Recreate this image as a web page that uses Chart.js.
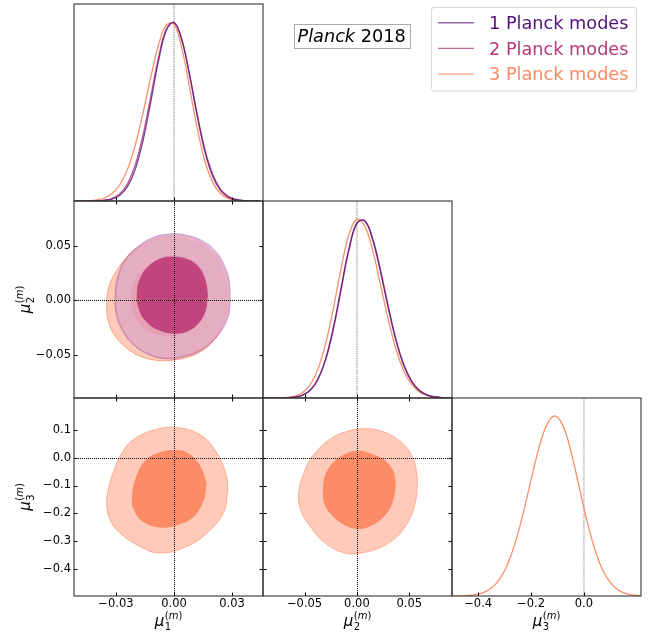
<!DOCTYPE html>
<html><head><meta charset="utf-8">
<script src="https://cdn.jsdelivr.net/npm/chart.js@4.4.1/dist/chart.umd.min.js"></script>
<style>
body{margin:0;background:#fff;}
#wrap{position:relative;width:649px;height:637px;background:#fff;}
#wrap canvas{position:absolute;left:0;top:0;}
</style></head>
<body><div id="wrap"></div>
<script>
// ---------------- DATA ----------------
const MODEL_LABELS = ['1 Planck modes', '2 Planck modes', '3 Planck modes'];

const MU1_TICKS = [-0.03, 0, 0.03];
const MU1_TICK_LABELS = ['\u22120.03', '0.00', '0.03'];
const MU2_TICKS = [-0.05, 0, 0.05];
const MU2_TICK_LABELS = ['\u22120.05', '0.00', '0.05'];
const MU3_YTICKS = [-0.4, -0.3, -0.2, -0.1, 0, 0.1];
const MU3_YTICK_LABELS = ['\u22120.4', '\u22120.3', '\u22120.2', '\u22120.1', '0.0', '0.1'];
const MU3_XTICKS = [-0.4, -0.2, 0];
const MU3_XTICK_LABELS = ['\u22120.4', '\u22120.2', '0.0'];

const MU1_RANGE = [-0.0517, 0.0460];
const MU2_RANGE = [-0.0897, 0.0908];
const MU3_RANGE = [-0.499, 0.216];
const PDF_RANGE = [0, 1.1];

// 1D marginals (normalised to peak 1)
const MU1_GRID = [-0.052,-0.048,-0.044,-0.040,-0.036,-0.032,-0.028,-0.024,-0.020,-0.016,-0.012,-0.008,-0.004,0.000,0.004,0.008,0.012,0.016,0.020,0.024,0.028,0.032,0.036,0.040,0.044];
const PDF_MU1_1 = [0.0000,0.0000,0.0002,0.0008,0.0032,0.0107,0.0319,0.0813,0.178,0.339,0.554,0.782,0.951,0.998,0.903,0.705,0.475,0.275,0.138,0.0595,0.0222,0.0072,0.0020,0.0005,0.0001];
const PDF_MU1_2 = [0.0000,0.0001,0.0003,0.0013,0.0046,0.0146,0.0404,0.0972,0.203,0.370,0.584,0.802,0.959,0.996,0.900,0.707,0.483,0.287,0.149,0.0667,0.0261,0.0089,0.0026,0.0007,0.0001];
const PDF_MU1_3 = [0.0002,0.0006,0.0020,0.0062,0.0167,0.0413,0.0908,0.178,0.313,0.492,0.692,0.871,0.982,0.986,0.855,0.636,0.406,0.222,0.104,0.0418,0.0144,0.0043,0.0011,0.0002,0.0000];

const MU2_GRID = [-0.09,-0.0825,-0.075,-0.0675,-0.06,-0.0525,-0.045,-0.0375,-0.03,-0.0225,-0.015,-0.0075,0,0.0075,0.015,0.0225,0.03,0.0375,0.045,0.0525,0.06,0.0675,0.075,0.0825,0.09];
const PDF_MU2_1 = [0.0000,0.0001,0.0003,0.0012,0.0045,0.0149,0.0418,0.103,0.217,0.394,0.619,0.838,0.978,0.988,0.884,0.705,0.500,0.316,0.177,0.0889,0.0397,0.0158,0.0056,0.0018,0.0005];
const PDF_MU2_2 = [0.0000,0.0000,0.0002,0.0011,0.0042,0.0140,0.0398,0.0989,0.209,0.383,0.607,0.827,0.974,0.991,0.892,0.716,0.511,0.325,0.184,0.0927,0.0416,0.0166,0.0059,0.0018,0.0005];
const PDF_MU2_3 = [0.0000,0.0002,0.0007,0.0028,0.0095,0.0277,0.0710,0.157,0.301,0.501,0.726,0.914,0.999,0.959,0.824,0.633,0.436,0.268,0.148,0.0729,0.0321,0.0127,0.0045,0.0014,0.0004];

const MU3_GRID = [-0.50,-0.47,-0.44,-0.41,-0.38,-0.35,-0.32,-0.29,-0.26,-0.23,-0.20,-0.17,-0.14,-0.11,-0.08,-0.05,-0.02,0.01,0.04,0.07,0.10,0.13,0.16,0.19,0.22];
const PDF_MU3_3 = [0.0003,0.0009,0.0027,0.0076,0.0192,0.0439,0.0910,0.172,0.295,0.458,0.644,0.823,0.952,1.000,0.948,0.809,0.620,0.427,0.265,0.147,0.0738,0.0333,0.0135,0.0049,0.0016];

// 2D credible contours [x, y]  (outer = 95%, inner = 68%)
const C12_1_OUTER = [[0.0290,0.005],[0.0285,0.018],[0.0262,0.031],[0.0215,0.045],[0.014,0.055],[0.005,0.060],[-0.002,0.0605],[-0.010,0.058],[-0.018,0.050],[-0.025,0.038],[-0.029,0.022],[-0.0305,0.005],[-0.030,-0.012],[-0.027,-0.027],[-0.021,-0.041],[-0.013,-0.050],[-0.004,-0.0538],[0.005,-0.052],[0.014,-0.046],[0.022,-0.034],[0.027,-0.020],[0.0288,-0.008],[0.0290,0.005]];
const C12_1_INNER = [[0.0176,0.005],[0.0167,0.017],[0.0138,0.029],[0.0083,0.0372],[0.0003,0.0402],[-0.0068,0.0386],[-0.0134,0.0309],[-0.0175,0.0196],[-0.0190,0.0052],[-0.0180,-0.0082],[-0.0145,-0.0195],[-0.0080,-0.0277],[0.0002,-0.0309],[0.0073,-0.0287],[0.0129,-0.0215],[0.0164,-0.0102],[0.0176,0.005]];
const C12_2_OUTER = [[0.0286,0.005],[0.0281,0.018],[0.0258,0.030],[0.0212,0.044],[0.0138,0.054],[0.005,0.0592],[-0.002,0.0597],[-0.0098,0.0572],[-0.0177,0.0494],[-0.0246,0.0375],[-0.0286,0.0218],[-0.0300,0.005],[-0.0295,-0.0118],[-0.0266,-0.0266],[-0.0207,-0.0404],[-0.0128,-0.0493],[-0.0039,-0.0530],[0.0049,-0.0512],[0.0138,-0.0453],[0.0217,-0.0335],[0.0266,-0.0197],[0.0284,-0.0079],[0.0286,0.005]];
const C12_2_INNER = [[0.0172,0.004],[0.0163,0.016],[0.0134,0.028],[0.0080,0.036],[0.000,0.039],[-0.007,0.0375],[-0.0135,0.030],[-0.0175,0.019],[-0.019,0.005],[-0.018,-0.008],[-0.0145,-0.019],[-0.008,-0.027],[0.000,-0.0302],[0.007,-0.028],[0.0125,-0.021],[0.016,-0.010],[0.0172,0.004]];
const C12_3_OUTER = [[0.0272,0.002],[0.0265,0.017],[0.0240,0.031],[0.019,0.044],[0.011,0.053],[0.002,0.0574],[-0.007,0.0565],[-0.016,0.051],[-0.024,0.040],[-0.030,0.026],[-0.0337,0.012],[-0.0348,-0.004],[-0.0338,-0.020],[-0.030,-0.034],[-0.023,-0.046],[-0.015,-0.053],[-0.006,-0.0555],[0.003,-0.054],[0.012,-0.049],[0.019,-0.040],[0.024,-0.027],[0.0265,-0.013],[0.0272,0.002]];
const C12_3_INNER = [[0.016,0.0],[0.014,0.018],[0.009,0.031],[0.000,0.037],[-0.009,0.035],[-0.017,0.026],[-0.0215,0.012],[-0.022,-0.003],[-0.019,-0.018],[-0.013,-0.028],[-0.005,-0.032],[0.004,-0.030],[0.011,-0.021],[0.015,-0.011],[0.016,0.0]];

const C13_3_OUTER = [[0.0279,-0.115],[0.0255,-0.199],[0.0169,-0.272],[0.0066,-0.320],[-0.0072,-0.344],[-0.0176,-0.320],[-0.0279,-0.272],[-0.0331,-0.224],[-0.0348,-0.163],[-0.0335,-0.100],[-0.031,-0.045],[-0.0279,0.006],[-0.0210,0.066],[-0.0090,0.103],[0.0014,0.109],[0.0134,0.084],[0.0221,0.018],[0.0272,-0.067],[0.0279,-0.115]];
const C13_3_INNER = [[0.0166,-0.091],[0.0152,-0.151],[0.0100,-0.212],[0.0014,-0.242],[-0.0072,-0.250],[-0.0159,-0.230],[-0.0202,-0.193],[-0.0216,-0.151],[-0.0193,-0.067],[-0.0141,-0.006],[-0.0072,0.018],[-0.0004,0.026],[0.0066,0.018],[0.0134,-0.030],[0.0166,-0.091]];

const C23_3_OUTER = [[0.0579,-0.079],[0.0557,-0.163],[0.0462,-0.248],[0.0302,-0.308],[0.0079,-0.341],[-0.0112,-0.344],[-0.0303,-0.308],[-0.0446,-0.248],[-0.0526,-0.199],[-0.0558,-0.133],[-0.0494,-0.042],[-0.0399,0.018],[-0.0239,0.072],[-0.0048,0.100],[0.0079,0.105],[0.0239,0.096],[0.0430,0.054],[0.0541,-0.006],[0.0579,-0.079]];
const C23_3_INNER = [[0.0366,-0.103],[0.0335,-0.163],[0.0254,-0.212],[0.0111,-0.248],[-0.0016,-0.254],[-0.0143,-0.236],[-0.0255,-0.199],[-0.0310,-0.163],[-0.0319,-0.127],[-0.0303,-0.067],[-0.0224,-0.018],[-0.0112,0.012],[0.0015,0.024],[0.0143,0.012],[0.0271,-0.012],[0.0350,-0.054],[0.0366,-0.103]];

// ---------------- LAYOUT / STYLE ----------------
const W = 649, H = 637;
const COLS = [[74, 263], [263, 452], [452, 641]];
const ROWS = [[4, 201], [201, 398], [398, 596]];
const YAXIS_W = 70, XAXIS_H = 25;
const TEXT_COLORS = ['#51127c', '#b73779', '#fc8961'];
const LINE_COLORS = ['rgba(81,18,124,0.8)', 'rgba(183,55,121,0.85)', 'rgba(252,137,97,0.95)'];
const LEGEND_LINE_COLORS = ['rgba(81,18,124,0.65)', 'rgba(183,55,121,0.75)', 'rgba(252,137,97,0.8)'];
const FONT = "'DejaVu Sans'";

Chart.defaults.font.family = FONT;
Chart.defaults.color = '#000';

function drawMath(ctx, cx, cy, sub, rot) {
  ctx.save();
  ctx.translate(cx, cy);
  if (rot) ctx.rotate(-Math.PI / 2);
  ctx.fillStyle = '#000';
  ctx.textBaseline = 'alphabetic';
  ctx.textAlign = 'left';
  const fMu = 'italic 15px ' + FONT, fS = '10px ' + FONT, fSi = 'italic 10px ' + FONT;
  ctx.font = fMu; const wMu = ctx.measureText('\u03bc').width;
  ctx.font = fS; const wSub = ctx.measureText(sub).width;
  const wP = ctx.measureText('(').width, wP2 = ctx.measureText(')').width;
  ctx.font = fSi; const wM = ctx.measureText('m').width;
  const wSup = wP + wM + wP2;
  const total = wMu + 0.5 + Math.max(wSub, wSup);
  let x = -total / 2;
  ctx.font = fMu; ctx.fillText('\u03bc', x, 0);
  x += wMu + 0.5;
  ctx.font = fS; ctx.fillText(sub, x, 3.5);
  ctx.fillText('(', x, -7);
  ctx.font = fSi; ctx.fillText('m', x + wP, -7);
  ctx.font = fS; ctx.fillText(')', x + wP + wM, -7);
  ctx.restore();
}

function drawLegend(ctx) {
  ctx.save();
  const bx = 431.5, by = 7.5, bw = 205, bh = 83.5, r = 2.5;
  ctx.beginPath();
  ctx.moveTo(bx + r, by); ctx.lineTo(bx + bw - r, by); ctx.arcTo(bx + bw, by, bx + bw, by + r, r);
  ctx.lineTo(bx + bw, by + bh - r); ctx.arcTo(bx + bw, by + bh, bx + bw - r, by + bh, r);
  ctx.lineTo(bx + r, by + bh); ctx.arcTo(bx, by + bh, bx, by + bh - r, r);
  ctx.lineTo(bx, by + r); ctx.arcTo(bx, by, bx + r, by, r); ctx.closePath();
  ctx.fillStyle = 'rgba(255,255,255,0.85)'; ctx.fill();
  ctx.strokeStyle = '#d6d6d6'; ctx.lineWidth = 1; ctx.stroke();
  ctx.font = '17.7px ' + FONT; ctx.textBaseline = 'alphabetic'; ctx.textAlign = 'left';
  for (let i = 0; i < MODEL_LABELS.length; i++) {
    const y = 22.7 + i * 25.7;
    ctx.strokeStyle = LEGEND_LINE_COLORS[i]; ctx.lineWidth = 1.4;
    ctx.beginPath(); ctx.moveTo(438, y); ctx.lineTo(474, y); ctx.stroke();
    ctx.fillStyle = TEXT_COLORS[i];
    ctx.fillText(MODEL_LABELS[i], 489, y + 6.3);
  }
  ctx.fillStyle = '#fff'; ctx.fillRect(294.5, 24.5, 116, 24);
  ctx.strokeStyle = '#aaaaaa'; ctx.lineWidth = 1; ctx.strokeRect(294.5, 24.5, 116, 24);
  ctx.fillStyle = '#000';
  ctx.font = 'italic 17.7px ' + FONT;
  ctx.fillText('Planck', 297.5, 41.5);
  const w1 = ctx.measureText('Planck').width;
  ctx.font = '17.7px ' + FONT;
  ctx.fillText(' 2018', 297.5 + w1, 41.5);
  ctx.restore();
}

const cornerPlugin = {
  id: 'corner',
  beforeDatasetsDraw(chart, args, o) {
    if (!o || !o.pdf) return;
    const ctx = chart.ctx, a = chart.chartArea, xs = chart.scales.x;
    const px = xs.getPixelForValue(0);
    ctx.save();
    ctx.strokeStyle = 'rgba(150,150,150,0.55)'; ctx.lineWidth = 2; ctx.setLineDash([1.5, 0.8]);
    ctx.beginPath(); ctx.moveTo(px, a.top); ctx.lineTo(px, a.bottom); ctx.stroke();
    ctx.restore();
  },
  afterDatasetsDraw(chart, args, o) {
    if (!o) return;
    const ctx = chart.ctx, a = chart.chartArea, xs = chart.scales.x, ys = chart.scales.y;
    ctx.save();
    if (!o.pdf) {
      ctx.strokeStyle = '#000'; ctx.lineWidth = 1; ctx.setLineDash([1, 1]);
      const px = Math.round(xs.getPixelForValue(0)) + 0.5;
      const py = Math.round(ys.getPixelForValue(0)) + 0.5;
      ctx.beginPath(); ctx.moveTo(px, a.top); ctx.lineTo(px, a.bottom); ctx.stroke();
      ctx.beginPath(); ctx.moveTo(a.left, py); ctx.lineTo(a.right, py); ctx.stroke();
    }
    ctx.setLineDash([]);
    const TL = 3.5;
    ctx.strokeStyle = '#000'; ctx.lineWidth = 1;
    ctx.beginPath();
    xs.ticks.forEach(t => {
      const p = Math.round(xs.getPixelForValue(t.value)) + 0.5;
      ctx.moveTo(p, a.bottom); ctx.lineTo(p, a.bottom - TL);
      if (!o.pdf) { ctx.moveTo(p, a.top); ctx.lineTo(p, a.top + TL); }
    });
    if (!o.pdf) ys.ticks.forEach(t => {
      const p = Math.round(ys.getPixelForValue(t.value)) + 0.5;
      ctx.moveTo(a.left, p); ctx.lineTo(a.left + TL, p);
      ctx.moveTo(a.right, p); ctx.lineTo(a.right - TL, p);
    });
    ctx.stroke();
    ctx.strokeStyle = '#333'; ctx.lineWidth = 1.1;
    ctx.strokeRect(a.left, a.top, a.right - a.left, a.bottom - a.top);
    if (o.xTitle) drawMath(ctx, (a.left + a.right) / 2, a.bottom + 30, o.xTitle, false);
    if (o.yTitle) drawMath(ctx, 30, (a.top + a.bottom) / 2, o.yTitle, true);
    ctx.restore();
  },
  afterDraw(chart, args, o) {
    if (o && o.legend) drawLegend(chart.ctx);
  }
};
Chart.register(cornerPlugin);

function fitFixed(s) {
  if (s.isHorizontal()) s.height = XAXIS_H; else s.width = YAXIS_W;
  s.paddingLeft = 0; s.paddingRight = 0; s.paddingTop = 0; s.paddingBottom = 0;
}

function axis(range, ticks, labels, show, pos) {
  return {
    type: 'linear', position: pos, min: range[0], max: range[1],
    grid: { display: false, drawTicks: false },
    border: { display: false },
    ticks: {
      display: show, padding: pos === 'bottom' ? 1 : 3, color: '#000',
      font: { size: 11.5, family: FONT }, maxRotation: 0, minRotation: 0, autoSkip: false,
      callback: (v, i) => labels[i]
    },
    afterBuildTicks: (s) => { s.ticks = ticks.map(v => ({ value: v })); },
    afterFit: fitFixed
  };
}

function curve(xs, ys, color) {
  return {
    data: xs.map((x, i) => ({ x: x, y: ys[i] })),
    borderColor: color, borderWidth: 1.3, fill: false, tension: 0.4,
    pointRadius: 0, pointHoverRadius: 0
  };
}
function contour(pts, fillColor, edgeColor, order, bw) {
  return {
    data: pts.map(p => ({ x: p[0], y: p[1] })),
    backgroundColor: fillColor, borderColor: edgeColor, borderWidth: bw === undefined ? 1 : bw,
    fill: 'shape', tension: 0.4, pointRadius: 0, pointHoverRadius: 0, order: order
  };
}

function makePanel(col, row, xAxis, yAxis, datasets, cornerOpts) {
  const cv = document.createElement('canvas');
  cv.width = W; cv.height = H;
  cv.style.width = W + 'px'; cv.style.height = H + 'px';
  document.getElementById('wrap').appendChild(cv);
  const C = COLS[col], R = ROWS[row];
  return new Chart(cv.getContext('2d'), {
    type: 'line',
    data: { datasets: datasets },
    options: {
      responsive: false, animation: false, events: [], devicePixelRatio: 1,
      layout: { autoPadding: false, padding: { left: C[0] - YAXIS_W, right: W - C[1], top: R[0], bottom: H - R[1] - XAXIS_H } },
      plugins: { legend: { display: false }, tooltip: { enabled: false }, corner: cornerOpts },
      scales: { x: xAxis, y: yAxis }
    }
  });
}

const NONE = [];
makePanel(0, 0,
  axis(MU1_RANGE, MU1_TICKS, MU1_TICK_LABELS, false, 'bottom'),
  axis(PDF_RANGE, NONE, NONE, false, 'left'),
  [curve(MU1_GRID, PDF_MU1_1, LINE_COLORS[0]), curve(MU1_GRID, PDF_MU1_2, LINE_COLORS[1]), curve(MU1_GRID, PDF_MU1_3, LINE_COLORS[2])],
  { pdf: true });

makePanel(0, 1,
  axis(MU1_RANGE, MU1_TICKS, MU1_TICK_LABELS, false, 'bottom'),
  axis(MU2_RANGE, MU2_TICKS, MU2_TICK_LABELS, true, 'left'),
  [
    contour(C12_3_OUTER, 'rgba(252,137,97,0.44)', 'rgba(252,137,97,0.75)', 6),
    contour(C12_3_INNER, 'rgba(252,137,97,0.95)', 'rgba(252,137,97,0.95)', 5),
    contour(C12_1_OUTER, 'rgba(81,18,124,0.10)', 'rgba(160,80,160,0.5)', 4),
    contour(C12_2_OUTER, 'rgba(228,170,198,0.8)', 'rgba(183,55,121,0.25)', 3),
    contour(C12_1_INNER, 'rgba(160,50,120,0.35)', 'rgba(160,50,120,0.0)', 2, 0),
    contour(C12_2_INNER, 'rgba(192,66,122,0.94)', 'rgba(192,66,122,0.94)', 1)
  ],
  { yTitle: '2' });

makePanel(1, 1,
  axis(MU2_RANGE, MU2_TICKS, MU2_TICK_LABELS, false, 'bottom'),
  axis(PDF_RANGE, NONE, NONE, false, 'left'),
  [curve(MU2_GRID, PDF_MU2_1, LINE_COLORS[0]), curve(MU2_GRID, PDF_MU2_2, LINE_COLORS[1]), curve(MU2_GRID, PDF_MU2_3, LINE_COLORS[2])],
  { pdf: true });

makePanel(0, 2,
  axis(MU1_RANGE, MU1_TICKS, MU1_TICK_LABELS, true, 'bottom'),
  axis(MU3_RANGE, MU3_YTICKS, MU3_YTICK_LABELS, true, 'left'),
  [
    contour(C13_3_OUTER, 'rgba(252,137,97,0.44)', 'rgba(252,137,97,0.6)', 2),
    contour(C13_3_INNER, 'rgba(252,137,97,0.95)', 'rgba(252,137,97,0.95)', 1)
  ],
  { xTitle: '1', yTitle: '3' });

makePanel(1, 2,
  axis(MU2_RANGE, MU2_TICKS, MU2_TICK_LABELS, true, 'bottom'),
  axis(MU3_RANGE, MU3_YTICKS, MU3_YTICK_LABELS, false, 'left'),
  [
    contour(C23_3_OUTER, 'rgba(252,137,97,0.44)', 'rgba(252,137,97,0.6)', 2),
    contour(C23_3_INNER, 'rgba(252,137,97,0.95)', 'rgba(252,137,97,0.95)', 1)
  ],
  { xTitle: '2' });

makePanel(2, 2,
  axis(MU3_RANGE, MU3_XTICKS, MU3_XTICK_LABELS, true, 'bottom'),
  axis(PDF_RANGE, NONE, NONE, false, 'left'),
  [curve(MU3_GRID, PDF_MU3_3, LINE_COLORS[2])],
  { pdf: true, xTitle: '3', legend: true });
</script>
</body></html>
